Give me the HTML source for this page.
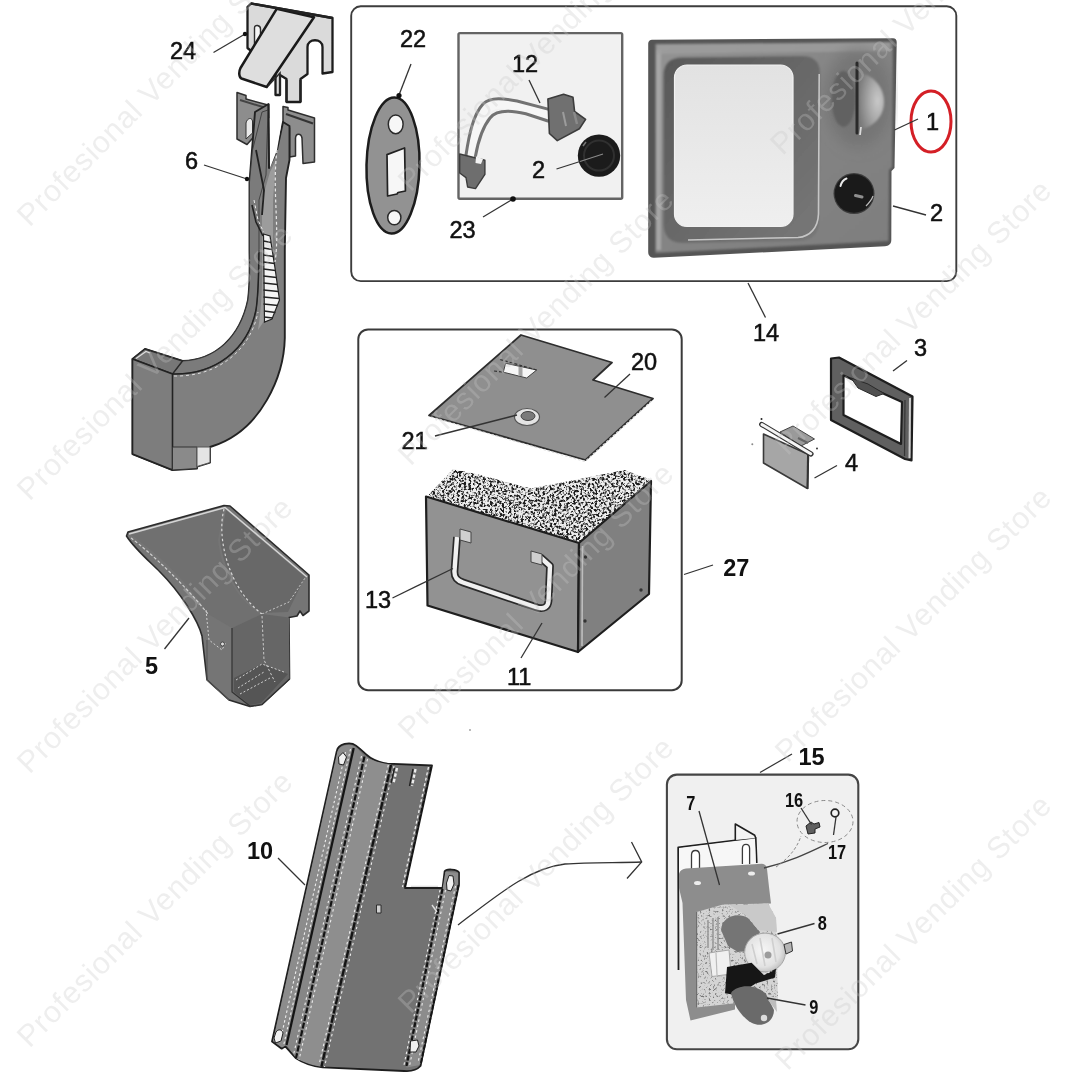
<!DOCTYPE html>
<html><head><meta charset="utf-8"><title>Parts diagram</title>
<style>
html,body{margin:0;padding:0;background:#fff;}
body{width:1080px;height:1080px;overflow:hidden;}
svg{display:block;}
g.noaa{opacity:0.999;}
text{font-family:"Liberation Sans",sans-serif;}
.wm{font-size:30.5px;fill:#c8c8c8;fill-opacity:0.31;letter-spacing:0.9px;}
.lb{font-size:24px;fill:#111;stroke:#111;stroke-width:0.55;}
.lb text,.lbb text{transform-box:fill-box;transform-origin:0 50%;}
.lb text{transform:scaleX(0.98);}
.lbb{font-size:23.5px;font-weight:bold;fill:#111;}
.ld{stroke:#333;stroke-width:1.3;fill:none;}
</style></head><body>
<svg width="1080" height="1080" viewBox="0 0 1080 1080">
<defs>
<filter id="speck" x="0" y="0" width="100%" height="100%">
<feTurbulence type="fractalNoise" baseFrequency="0.42" numOctaves="2" seed="7" result="n"/>
<feColorMatrix in="n" type="matrix" values="0 0 0 0 0  0 0 0 0 0  0 0 0 0 0  4 4 0 0 -3.75" result="m"/>
<feComposite in="SourceGraphic" in2="m" operator="in"/>
</filter>
<linearGradient id="gPanel" x1="0" y1="0" x2="1" y2="1">
<stop offset="0" stop-color="#9a9a9a"/><stop offset="0.5" stop-color="#8a8a8a"/><stop offset="1" stop-color="#7c7c7c"/>
</linearGradient>
<linearGradient id="gWin" x1="0" y1="0" x2="0" y2="1">
<stop offset="0" stop-color="#e2e2e2"/><stop offset="1" stop-color="#efefef"/>
</linearGradient>
</defs>
<rect width="1080" height="1080" fill="#fff"/>
<g id="frames" class="noaa">
<rect x="351.200" y="6.300" width="605.100" height="274.800" rx="9.500" ry="9.500" fill="none" stroke="#3d3d3d" stroke-width="1.900"/>
<rect x="358.300" y="329.400" width="323.400" height="360.800" rx="9.800" ry="9.800" fill="none" stroke="#3a3a3a" stroke-width="2"/>
<rect x="666.900" y="774.600" width="191.400" height="274.700" rx="10" ry="10" fill="#f0f0f0" stroke="#454545" stroke-width="2.100"/>
<rect x="458.500" y="33.100" width="163.700" height="165.600" rx="1.500" fill="#f1f1f1" stroke="#646464" stroke-width="2.400"/>
</g>
<g id="part24" class="noaa">
<!-- back plate -->
<path d="M247.500 7 L251 3.500 L332.500 18 L332.500 72 L322.500 73.500 L322.500 47 C322.500 38 307.500 38 307.500 47 L307.500 74 L300.500 79 L300.500 102 L286.500 102 L286.500 79 L280 75 L280 95 L275.500 95 L275.500 70 L262 60 L247.500 48 Z" fill="#dadada" stroke="#1c1c1c" stroke-width="2.3" stroke-linejoin="round"/>
<path d="M254.500 28 C254.500 24 260.500 25 260.500 29 L260.500 43 L254.500 46 Z" fill="#f5f5f5" stroke="#2e2e2e" stroke-width="1.4"/>
<path d="M286.500 80 L286.500 102 M300.500 80 L300.500 102" stroke="#222" stroke-width="2.2"/>
<!-- flap -->
<path d="M276.700 8.900 L314 17.200 L266.700 87 L241.500 78.500 C239 77.500 238.500 72 240.500 68 Z" fill="#dedede" stroke="#1a1a1a" stroke-width="2.5" stroke-linejoin="round"/>
<path d="M268 86 L280 73 L280 95" fill="none" stroke="#2a2a2a" stroke-width="1.6"/>
<path d="M251 3.500 L332.500 18" stroke="#222" stroke-width="2.4"/>
</g>
<g id="part6" class="noaa">
<!-- left hook bracket -->
<path d="M237 92.500 L246 95.500 L246 99 L268 105 L268 120 L258 117 L258 132 L247 144.500 L237 139 Z" fill="#8d8d8d" stroke="#2e2e2e" stroke-width="1.5" stroke-linejoin="round"/>
<path d="M246 123 C247 118 252 117 252.500 121 L252.500 133 L246 139 Z" fill="#e9e9e9" stroke="#333" stroke-width="1"/>
<path d="M240 100 L266 108" stroke="#444" stroke-width="2"/>
<!-- right hook bracket -->
<path d="M283 106.500 L288 107.500 L288 110 L314.500 118 L314.500 162 L303 163.500 L302 138 C301 133 296 133 295.500 138 L295.500 156 L289.500 157 L289.500 128 L283 126 Z" fill="#8d8d8d" stroke="#2e2e2e" stroke-width="1.5" stroke-linejoin="round"/>
<path d="M286 114 L313 123.500" stroke="#333" stroke-width="2.2"/>
<!-- J body silhouette -->
<path d="M255 112 L268.500 104 L269 168 L277 150 L283 122 L289.500 126 L289.500 160 L286 178 L284.800 250 L284.800 338 C284 375 262 430 213 446 L210 447 L210 462.500 L197 466.500 L197 468.500 L172.500 470 L132.500 454 L132.500 359 L145 349 L182.500 361 C215 360 240 338 248 300 C250.500 280 249.500 260 249.500 250 L249.500 182 L252 150 Z" fill="#7f7f7f" stroke="#222" stroke-width="1.9" stroke-linejoin="round"/>
<!-- gap between walls at top -->
<path d="M269.500 118 L281 126 L277 150 L270 168 Z" fill="#fff"/>
<!-- left wall lighter rim -->
<path d="M249.500 250 C249.500 262 250.500 280 248 300 C240 338 215 360 182.500 361 L172.500 374 C215 375 248 350 256 310 C259 290 258.500 268 259 250 L259 200 L266 175 L268 110 L262 112 L252.500 150 L249.500 182 Z" fill="#7b7b7b" stroke="#333" stroke-width="0.8"/>
<!-- inner channel with light stair marks -->
<path d="M262 200 L270 172 L276 160 L273 200 L273 250 C274 280 272 300 266 318 L258 330 C263 300 262 270 262 250 Z" fill="#9c9c9c"/>
<path d="M263.500 234 L270 236 L275 268 L279.500 300 L272 319 L264.500 322 Z" fill="#f4f4f4" stroke="#222" stroke-width="1.200"/>
<path d="M263.500 241 L271 242.500 M263.500 248 L272 249.500 M263.500 255 L273.500 256.500 M263.500 262 L274.500 263.500 M263.500 269 L275.500 270.500 M263.500 276 L276.500 277.500 M263.500 283 L277.500 284.500 M263.500 290 L278.500 291.500 M263.500 297 L279 298.500 M263.500 304 L278 305.500 M264 311 L275.500 312.500 M264 317 L273 318" fill="none" stroke="#222" stroke-width="1.500"/>
<path d="M252 205 L256 222 L263 236" fill="none" stroke="#222" stroke-width="1.600"/>
<path d="M254 200 L258 220 L263.500 232" fill="none" stroke="#ececec" stroke-width="1" stroke-dasharray="3 2.500"/>
<path d="M268.500 104 L269 168 M256 150 L264 190 L262 215" fill="none" stroke="#222" stroke-width="1.8"/>
<path d="M277 150 C272 190 280 230 275 262" fill="none" stroke="#e8e8e8" stroke-width="1.2" stroke-dasharray="3 2.500"/>
<!-- box top opening -->
<path d="M132.500 359 L145 349 L182.500 361 L172.500 374 Z" fill="#777" stroke="#2b2b2b" stroke-width="1.4" stroke-linejoin="round"/>
<path d="M136 358.500 L146 351.500 L150 353" fill="none" stroke="#ddd" stroke-width="1.2"/>
<!-- box left face -->
<path d="M132.500 359 L172.500 374 L172.500 470 L132.500 454 Z" fill="#7d7d7d" stroke="#222" stroke-width="1.6" stroke-linejoin="round"/>
<!-- bottom small blocks -->
<path d="M172.500 447 L197 447 L197 468.500 L172.500 470 Z" fill="#8a8a8a" stroke="#333" stroke-width="1"/>
<path d="M197 447 L210 447 L210 462.500 L197 466.500 Z" fill="#e4e4e4" stroke="#555" stroke-width="1"/>
<path d="M172.500 374 C215 375 248 350 256 310 C259 290 258.500 268 259 250" fill="none" stroke="#222" stroke-width="1.500"/>
<path d="M174 376 C216 377 250 352 258 312" fill="none" stroke="#ddd" stroke-width="1" stroke-dasharray="3 3"/>
</g>
<g id="part22" class="noaa">
<ellipse cx="393" cy="165.500" rx="26.500" ry="68" transform="rotate(1.300 393 165.500)" fill="#929292" stroke="#1c1c1c" stroke-width="2.500"/>
<ellipse cx="395.700" cy="124.300" rx="7.400" ry="9.400" fill="#f7f7f7" stroke="#2a2a2a" stroke-width="1.500"/>
<ellipse cx="394.300" cy="217.600" rx="6.600" ry="7.200" fill="#f7f7f7" stroke="#2a2a2a" stroke-width="1.500"/>
<path d="M387 154.600 L404.600 148 L405.400 191 L398 192.500 L397 194 L387.600 196 Z" fill="#f7f7f7" stroke="#222" stroke-width="1.700" stroke-linejoin="round"/>
</g>
<g id="box23" class="noaa">
<!-- wires: white ribbon with two dark gray edges -->
<path d="M470.500 156 C474 138 478 118 487 108 C494 101 508 103 522 107 L548 115" fill="none" stroke="#f6f6f6" stroke-width="11"/>
<path d="M466 155 C469 135 473 115 483 104 C491 96 506 99 518 101.200 L548 109.100" fill="none" stroke="#727272" stroke-width="3" stroke-linecap="round"/>
<path d="M475.500 156 C478 142 482 128 490 118 C497 109 512 110.500 525.800 113.800 L548 121" fill="none" stroke="#727272" stroke-width="3" stroke-linecap="round"/>
<!-- upper connector -->
<path d="M547.900 99 L563.600 94.200 L573 97.300 L574.600 111.500 L585.600 119.400 L579.400 128.800 L557.300 140.600 L549.400 133.500 Z" fill="#707070" stroke="#3c3c3c" stroke-width="1.600" stroke-linejoin="round"/>
<path d="M563 112 L566 126" fill="none" stroke="#9c9c9c" stroke-width="2"/>
<path d="M574 112 L577 124" fill="none" stroke="#8a8a8a" stroke-width="2.500"/>
<!-- lower connector -->
<path d="M459.700 154 L484.900 160.300 L484.900 174.400 L475.500 188.600 L467.600 187 L466 177.600 L459.700 173 Z" fill="#6e6e6e" stroke="#3c3c3c" stroke-width="1.400" stroke-linejoin="round"/>
<path d="M476 156.500 L483 159 L481 164 L475.500 163 Z" fill="#f2f2f2"/>
<!-- knob -->
<circle cx="599" cy="155.600" r="21.200" fill="#1b1b1b"/>
<circle cx="599" cy="155.600" r="15" fill="none" stroke="#303030" stroke-width="2"/>
<path d="M583 146 L586 142" stroke="#777" stroke-width="1.500"/>
</g>
<g id="panel14" class="noaa">
<defs>
<radialGradient id="gDome" cx="0.75" cy="0.5" r="0.75">
<stop offset="0" stop-color="#c9c9c9"/><stop offset="0.45" stop-color="#a9a9a9"/><stop offset="1" stop-color="#7c7c7c"/>
</radialGradient>
<linearGradient id="gFace" x1="0" y1="0" x2="1" y2="1">
<stop offset="0" stop-color="#939393"/><stop offset="0.5" stop-color="#848484"/><stop offset="1" stop-color="#7e7e7e"/>
</linearGradient>
<linearGradient id="gRec" x1="0" y1="0" x2="1" y2="1">
<stop offset="0" stop-color="#585858"/><stop offset="0.5" stop-color="#686868"/><stop offset="1" stop-color="#787878"/>
</linearGradient>
<filter id="soft14" x="-2%" y="-2%" width="104%" height="104%"><feGaussianBlur stdDeviation="0.8"/></filter>
<filter id="soft14b" x="-30%" y="-30%" width="160%" height="160%"><feGaussianBlur stdDeviation="7"/></filter>
</defs>
<!-- outer body (dark edge) -->
<path d="M652 39.800 L893 38.300 C895.500 38.300 896.700 40 896.700 42 L894.500 168 L891.500 171 L891.300 240 C891.300 244 888.500 246 885 246.200 L654 257.800 C650.500 258 648.200 255.500 648.200 252 L648.200 43.500 C648.200 41.500 650 39.800 652 39.800 Z" fill="#555555"/>
<g filter="url(#soft14)">
<!-- face -->
<path d="M655.500 44 L893 42 L892 167 L889 170 L888.500 241 L655.500 253 Z" fill="url(#gFace)"/>
<!-- bevel highlights -->
<path d="M658.500 250 L658.500 50" fill="none" stroke="#a8a8a8" stroke-width="5" stroke-opacity="0.9"/>
<path d="M657 49.500 L890 46.500" fill="none" stroke="#9f9f9f" stroke-width="9" stroke-opacity="0.75"/>
<!-- darker zone around slot -->
<ellipse cx="858" cy="98" rx="34" ry="50" fill="#6a6a6a" fill-opacity="0.55" filter="url(#soft14b)"/>
<!-- recess -->
<path d="M682 57.500 L802 56 C814 56 820 62 820 73 L819 222 C819 234 812 240.500 800 241 L683 243 C670 243 663.500 236 663.500 224 L663.500 75.500 C663.500 63.500 670 57.500 682 57.500 Z" fill="url(#gRec)"/>
</g>
<path d="M819.200 74 L818.500 214 C818 228 810 236.500 798 237.500 L688 240" fill="none" stroke="#c6c6c6" stroke-width="1.600"/>
<!-- window -->
<rect x="674.500" y="65" width="118.500" height="161.500" rx="12.500" ry="12.500" fill="url(#gWin)" stroke="#f2f2f2" stroke-width="1.200"/>
<!-- dome & slot -->
<g filter="url(#soft14)">
<ellipse cx="843.500" cy="99" rx="12" ry="28" fill="#5e5e5e" fill-opacity="0.85"/>
<path d="M858.500 72 C876 76 885 90 884 104 C883 118 872 127 860 130 Z" fill="url(#gDome)"/>
</g>
<path d="M857 63 L857 133" stroke="#2a2a2a" stroke-width="3" stroke-linecap="round"/>
<path d="M861 127 L860 135" stroke="#dcdcdc" stroke-width="1.800"/>
<!-- knob -->
<circle cx="854" cy="193.500" r="20.500" fill="#3c3c3c"/>
<circle cx="854" cy="193.500" r="19.300" fill="#1a1a1a"/>
<path d="M840.500 186 C841.500 182 844 179.500 846.500 178.500" fill="none" stroke="#e8e8e8" stroke-width="2" stroke-linecap="round"/>
<path d="M855.500 195.500 L862 197" stroke="#8f8f8f" stroke-width="3" stroke-linecap="round"/>
<path d="M866 206 C870 202 872 199 873 196" fill="none" stroke="#bbb" stroke-width="1.200"/>
</g>
<g id="box27" class="noaa">
<!-- plate 20 -->
<path d="M521 335 L612 362.500 L593 380 L653 398.500 L585.500 460 L429 415.500 Z" fill="#8f8f8f" stroke="#2d2d2d" stroke-width="1.8" stroke-linejoin="round"/>
<path d="M431 417 L585 461.500 L652 400.500" fill="none" stroke="#dcdcdc" stroke-width="1.2" stroke-dasharray="2.500 2"/>
<path d="M505.600 363.300 L536.700 370 L526.700 378 L503.300 372.200 Z" fill="#f6f6f6" stroke="#444" stroke-width="1"/>
<path d="M520.500 367 L520.500 376" stroke="#a5a5a5" stroke-width="4"/>
<path d="M500 359.500 L536.700 370 M494 371 L503.300 372.200" stroke="#333" stroke-width="1.200" stroke-dasharray="3 2"/>
<!-- ring 21 -->
<ellipse cx="527" cy="417" rx="12.500" ry="8.500" fill="#e4e4e4" stroke="#555" stroke-width="1.2"/>
<ellipse cx="528" cy="416" rx="7" ry="4.500" fill="#7a7a7a" stroke="#444" stroke-width="1"/>
<!-- box 11 top foam -->
<path d="M427 496.500 L453.300 469 L480 475 L531 488.500 L580 479 L624.400 470 L650.500 479.500 L579 543 Z" fill="#ededed"/>
<path d="M427 496.500 L453.300 469 L480 475 L531 488.500 L580 479 L624.400 470 L650.500 479.500 L579 543 Z" fill="#1a1a1a" filter="url(#speck)"/>
<!-- front -->
<path d="M426 496.500 L579 543 L578 652 L427.500 605.500 Z" fill="#929292" stroke="#1e1e1e" stroke-width="2.2" stroke-linejoin="round"/>
<!-- side -->
<path d="M579 543 L651 481 L649 594 L578 652 Z" fill="#808080" stroke="#1e1e1e" stroke-width="2.2" stroke-linejoin="round"/>
<path d="M582.500 546 L582 646" stroke="#bdbdbd" stroke-width="1.600"/>
<circle cx="585.500" cy="557" r="1.700" fill="#333"/><circle cx="585" cy="621" r="1.700" fill="#333"/><circle cx="641" cy="590" r="1.700" fill="#333"/>
<!-- handle 13 -->
<path d="M457 537 L454.500 570.500 C454 577.500 457 580.500 463 582.500 L537 607.500 C544 609.500 548 607 548.500 601 L550 566 L540 557" fill="none" stroke="#2a2a2a" stroke-width="7.800" stroke-linejoin="round"/>
<path d="M457 537 L454.500 570.500 C454 577.500 457 580.500 463 582.500 L537 607.500 C544 609.500 548 607 548.500 601 L550 566 L540 557" fill="none" stroke="#f0f0f0" stroke-width="4.400" stroke-linejoin="round"/>
<path d="M460 529 L471 532 L471 543 L460 540 Z" fill="#cfcfcf" stroke="#444" stroke-width="1"/>
<path d="M531 551 L542 554 L542 565 L531 562 Z" fill="#cfcfcf" stroke="#444" stroke-width="1"/>
</g>
<g id="part34" class="noaa">
<!-- frame 3 -->
<path fill-rule="evenodd" d="M831 358.500 L839 357.500 L912.500 396.500 L911.500 460.500 L905 459 L831 420 Z M843.500 375.500 L902 402 L901 444 L843.500 415 Z" fill="#606060" stroke="#1e1e1e" stroke-width="2.200" stroke-linejoin="round"/>
<path d="M851 378 L858 388 L876 396.500 L884 393.500 L868 384 Z" fill="#505050" stroke="#2a2a2a" stroke-width="1"/>
<path d="M910 398 L909.500 458" stroke="#cfcfcf" stroke-width="2"/>
<path d="M905 400 L904.500 456" stroke="#333" stroke-width="1.200"/>
<!-- part 4 -->
<path d="M763.500 434 L808.500 454.500 L807.500 488.500 L763.500 463 Z" fill="#a6a6a6" stroke="#3a3a3a" stroke-width="1.600" stroke-linejoin="round"/>
<path d="M780 432 L793 426 L814.500 439 L801 446 Z" fill="#9a9a9a" stroke="#444" stroke-width="1"/>
<path d="M798 438 L808 443" stroke="#666" stroke-width="2"/>
<path d="M761.700 424.400 L811 453.900" stroke="#333" stroke-width="5.200" stroke-linecap="round"/>
<path d="M762 424.600 L810.700 453.700" stroke="#f4f4f4" stroke-width="3" stroke-linecap="round"/>
<path d="M808 455 L807.500 489" stroke="#333" stroke-width="2"/>
<circle cx="761.500" cy="419" r="1" fill="#222"/><circle cx="817" cy="448.500" r="0.900" fill="#222"/>

<circle cx="752.300" cy="444.200" r="1" fill="#8a8a8a"/>
<circle cx="470" cy="730" r="0.900" fill="#9a9a9a"/>
</g>
<g id="part5" class="noaa">
<!-- hopper silhouette -->
<path d="M126.500 536 L128 532 L224 505.500 L230 506 L309 575 L309 611 L303 615.500 L300 611 L297 616 L289 617.500 L289.500 679 L262 704.500 L250 706.500 L229 700 L207 680 L202 636 C198 620 180 592 160 572 C148 560 134 548 126.500 536 Z" fill="#757575" stroke="#2c2c2c" stroke-width="1.600" stroke-linejoin="round"/>
<!-- inner left wall -->
<path d="M131 535 L224 509 L218 540 C222 575 240 602 262 615 L232 628 L208 614 C190 585 160 555 131 535 Z" fill="#707070"/>
<!-- inner right wall -->
<path d="M226 510 L305 577 L288 612 L262 613 C240 600 224 572 220 540 Z" fill="#686868"/>
<!-- rim highlight -->
<path d="M129 534 L225 507.500 L307 577" fill="none" stroke="#d5d5d5" stroke-width="1.500"/>
<path d="M131 538 C150 552 185 585 208 614" fill="none" stroke="#cfcfcf" stroke-width="1.200" stroke-dasharray="3 2"/>
<path d="M224 509 C216 540 230 590 262 614" fill="none" stroke="#d8d8d8" stroke-width="1.200" stroke-dasharray="2.500 2.500"/>
<path d="M262 614 L289 602 L305 578" fill="none" stroke="#c8c8c8" stroke-width="1" stroke-dasharray="2 2"/>
<!-- spout -->
<path d="M232 628 L262 614 L289 617.500 L289.500 679 L262 704.500 L250 706.500 L232 692 Z" fill="#666666"/>
<path d="M234 678 L262 664 L288 674 L261 703 L250 705 L234 692 Z" fill="#555"/>
<path d="M232 628 L232 692 L250 706 L262 704.500 L289.500 679" fill="none" stroke="#333" stroke-width="1.200"/>
<path d="M262 616 L264 660 L275 682" fill="none" stroke="#c9c9c9" stroke-width="1" stroke-dasharray="2.500 2"/>
<path d="M236 680 L262 664 L284 672 M238 688 L264 672 M240 694 L270 678" fill="none" stroke="#d0d0d0" stroke-width="1" stroke-dasharray="2 2"/>
<path d="M207 640 L207 680 L229 700" fill="none" stroke="#555" stroke-width="1"/>
<path d="M206 610 L209 640 L222 650 L226 642" fill="none" stroke="#cfcfcf" stroke-width="1" stroke-dasharray="2 2"/>
<circle cx="222.500" cy="644" r="2" fill="#ddd" stroke="#333" stroke-width="0.800"/>
</g>
<g id="part10" class="noaa">
<!-- silhouette (main, darker) -->
<path d="M336.800 751 C338 744 350 741 356 745.600 C362 750 366 755 370.500 757.700 C376 761 382 763 387.400 763.700 L432 765.500 L405 888 L442.500 888 L444.600 871.500 C446 868.500 457 869 459 872.500 L459 884.500 L420.500 1066 C416 1071 410 1071.500 404 1071 L322.600 1067.300 C310 1066 300 1061 296 1058.300 L285.300 1046.300 L281.700 1048.700 L272 1041.500 Z" fill="#727272" stroke="#1e1e1e" stroke-width="1.800" stroke-linejoin="round"/>
<!-- left flange -->
<path d="M337.300 752 C339 745.500 348 743.500 353.700 746 L286.500 1045 L282 1047.500 L273 1041 Z" fill="#8c8c8c"/>
<!-- second strip -->
<path d="M353.700 746 C358 748 361 753 364.500 756 L296 1058 L286.500 1045 Z" fill="#868686"/>
<!-- third strip (lighter) -->
<path d="M364.500 756 C372 761 382 763.500 391 764.500 L321.400 1066.700 C311 1065.500 301 1061 296 1058 Z" fill="#8e8e8e"/>
<!-- right flange -->
<path d="M445.400 871.800 L458.200 872.800 L458.200 884.500 L420 1065 L406.500 1067.500 L442.500 889 Z" fill="#8c8c8c"/>
<!-- edges -->
<path d="M353.700 748 L286.500 1045" fill="none" stroke="#141414" stroke-width="2.300"/>
<path d="M364.500 756.500 L296 1058" fill="none" stroke="#141414" stroke-width="2.200" stroke-dasharray="6 1.800"/>
<path d="M391 765 L321.400 1066.700" fill="none" stroke="#141414" stroke-width="2.400" stroke-dasharray="8 1.500"/>
<path d="M345.500 752 L279.500 1044 M350.500 749 L283.500 1046" fill="none" stroke="#ececec" stroke-width="1.100" stroke-dasharray="2.500 2.500"/>
<path d="M361.500 756 L293.500 1055 M367.500 759 L299 1060" fill="none" stroke="#ececec" stroke-width="1.100" stroke-dasharray="2.500 3"/>
<path d="M388.300 765 L319 1065 M394 766 L324.500 1067" fill="none" stroke="#ececec" stroke-width="1.100" stroke-dasharray="2.500 3"/>
<path d="M428.500 767 L402.500 887" fill="none" stroke="#ececec" stroke-width="1.300" stroke-dasharray="3 2.500"/>
<path d="M431 767 L404.800 887" fill="none" stroke="#141414" stroke-width="1.600" stroke-dasharray="5 2"/>
<path d="M442.500 889 L406.500 1066" fill="none" stroke="#141414" stroke-width="2.200" stroke-dasharray="5 1.800"/>
<path d="M440 890 L404 1065 M445.500 890 L409.500 1066" fill="none" stroke="#ececec" stroke-width="1.100" stroke-dasharray="2.500 3"/>
<path d="M458.500 885 L420.500 1065" fill="none" stroke="#141414" stroke-width="2" stroke-dasharray="5 1.800"/>
<path d="M455.500 886 L418 1063" fill="none" stroke="#ececec" stroke-width="1.100" stroke-dasharray="2.500 3"/>
<path d="M405 888 L442.500 888" stroke="#1e1e1e" stroke-width="2"/>
<path d="M411 886.300 L438 886.300" stroke="#dcdcdc" stroke-width="1.200"/>
<!-- top slots -->
<path d="M397 768 L393.500 783 M415.500 769 L412 786" stroke="#ececec" stroke-width="2.400" stroke-dasharray="3.500 2"/>
<path d="M394.500 768 L391 783 M413 769 L409.500 786" stroke="#222" stroke-width="1.400"/>
<!-- screw holes -->
<path d="M338.500 757 L343 752.500 L346.500 757 L343.500 765 L339 764 Z" fill="#f1f1f1" stroke="#222" stroke-width="1"/>
<path d="M276 1032 C278 1029 282 1029 283 1033 L281 1041 L275.500 1043 L274 1038 Z" fill="#f1f1f1" stroke="#222" stroke-width="1"/>
<path d="M446.500 883 L449 875.500 L453 876 L454 884 L451 891 L447 890 Z" fill="#f1f1f1" stroke="#222" stroke-width="1"/>
<path d="M410.500 1041 L417.500 1040 L419 1046 L416 1052 L410 1052 Z" fill="#f1f1f1" stroke="#222" stroke-width="1"/>
<path d="M376.500 905 L381 905 L381 913 L376.500 913 Z" fill="#cfcfcf" stroke="#222" stroke-width="0.900"/>
<path d="M432 905 L437 912" stroke="#ddd" stroke-width="1.400"/>
</g>
<g id="box15" class="noaa">
<defs>
<filter id="speck2" x="0" y="0" width="100%" height="100%">
<feTurbulence type="fractalNoise" baseFrequency="0.45" numOctaves="2" seed="3" result="n"/>
<feColorMatrix in="n" type="matrix" values="0 0 0 0 0  0 0 0 0 0  0 0 0 0 0  3 3 0 0 -3.2" result="m"/>
<feComposite in="SourceGraphic" in2="m" operator="in"/>
</filter>
<filter id="soft" x="-5%" y="-5%" width="110%" height="110%"><feGaussianBlur stdDeviation="0.7"/></filter>
<radialGradient id="gCyl" cx="0.45" cy="0.45" r="0.6">
<stop offset="0" stop-color="#f6f6f6"/><stop offset="0.7" stop-color="#e2e2e2"/><stop offset="1" stop-color="#bcbcbc"/>
</radialGradient>
</defs>
<!-- back plate -->
<path d="M678.500 970 L678.200 847.500 L755.700 838 L756.700 863" fill="none" stroke="#1e1e1e" stroke-width="1.800" stroke-linejoin="round"/>
<path d="M679 848 L755 838.500 L756 866 L679 874 Z" fill="#f7f7f7"/>
<path d="M735.300 840 L735.300 824 L754.700 835.300 L755.700 838" fill="#f4f4f4" stroke="#1e1e1e" stroke-width="1.600" stroke-linejoin="round"/>
<path d="M691.500 871 L691.500 855 C691.500 849 699.500 849 699.500 855 L699.500 871" fill="#fff" stroke="#3a3a3a" stroke-width="1.300"/>
<path d="M742.400 864 L742.400 848.500 C742.400 843 749.600 843 749.600 848.500 L749.600 864" fill="#fff" stroke="#3a3a3a" stroke-width="1.300"/>
<g filter="url(#soft)">
<!-- gray bracket 7 -->
<path d="M679 874 C680 870 683 869 686 868.500 L762 863.800 C765 863.800 766.500 866 767 869 L769 887 L771 903.600 L735 905 L735 1009.500 L690.500 1020.500 L686 1000 L682.500 903 L679 888 Z" fill="#8d8d8d"/>
<!-- textured area -->
<path d="M696.600 912 L723 904.500 L768 903.600 L776 918 L778 1000 L733 1003.500 L696.600 1007.500 Z" fill="#d4d4d4"/>
<path d="M696.600 912 L723 904.500 L768 903.600 L776 918 L778 1000 L733 1003.500 L696.600 1007.500 Z" fill="#777" filter="url(#speck2)"/>
<path d="M708 920 L708 948 M713 918 L713 950 M718 917 L718 950" stroke="#9a9a9a" stroke-width="1.600"/>
<path d="M696.600 912 L696.600 1007.500" stroke="#6e6e6e" stroke-width="1.200"/>
<!-- motor 8 body -->
<path d="M721 930 C722 916 738 912 748 918 L760 932 L752 950 L738 952 L728 946 Z" fill="#747474"/>
<path d="M730 905 L768 903.600 L776 918 L777 932 L758 930 L748 917 Z" fill="#c9c9c9"/>
<!-- light cylinder -->
<ellipse cx="765" cy="952.500" rx="20.400" ry="19.400" fill="url(#gCyl)" stroke="#a5a5a5" stroke-width="1"/>
<path d="M752 944 L757 964 M760 938 L765 966 M772 938 L776 962" stroke="#cfcfcf" stroke-width="1.600"/>
<circle cx="768" cy="955" r="3.500" fill="#9c9c9c"/>
<path d="M784 944.500 L791.500 942 L792.500 951 L786 954 Z" fill="#b5b5b5" stroke="#333" stroke-width="1"/>
<!-- small white piece -->
<path d="M709 953 L729 950 L731 974 L712 976.500 Z" fill="#f0f0f0" stroke="#999" stroke-width="0.800"/>
<path d="M716 953 L717 975" stroke="#bbb" stroke-width="1.200"/>
<!-- motor 9 black + gray -->
<path d="M727 967 L751.600 962.700 L763.800 975 L776 968.800 L775 977.500 L755.700 983.500 L737.300 995.300 L725 993.300 Z" fill="#161616"/>
<path d="M764 974 L772 971" stroke="#ddd" stroke-width="1.500" stroke-dasharray="2 2"/>
<path d="M731 993 C738 984 756 984 766 994 L774 1010 C774 1022 762 1028 752 1023 C742 1018 733 1004 731 993 Z" fill="#6b6b6b"/>
<circle cx="764" cy="1018" r="3.200" fill="#dcdcdc"/>
<path d="M768 1000 L777 1012 L776 1000 Z" fill="#bdbdbd"/>
</g>
<ellipse cx="697.500" cy="883" rx="3.500" ry="2" fill="#ededed"/><ellipse cx="751.500" cy="873.500" rx="3.500" ry="2" fill="#ededed"/>
<!-- 16 / 17 small items -->
<ellipse cx="825" cy="821.500" rx="28" ry="21" fill="none" stroke="#8a8a8a" stroke-width="1" stroke-dasharray="4 3"/>
<path d="M764 868 C790 862 810 852 828 843.500" fill="none" stroke="#444" stroke-width="1.300"/>
<path d="M776 867 C792 856 798 845 801 836" fill="none" stroke="#8a8a8a" stroke-width="1" stroke-dasharray="3 2"/>
<path d="M806 826 L811 822 L814 824 L819 822.500 L820 827 L815 829 L815 833 L808 834 Z" fill="#5f5f5f" stroke="#222" stroke-width="1"/>
<circle cx="835" cy="813" r="3.800" fill="#f3f3f3" stroke="#222" stroke-width="1.700"/>
<path d="M836 817 L833.500 835" stroke="#333" stroke-width="1.300"/>
</g>
<g id="labels" class="noaa">
<g class="lb">
<text x="170" y="59.5">24</text>
<text x="185" y="169">6</text>
<text x="400" y="47.5">22</text>
<text x="512" y="72.5">12</text>
<text x="532" y="178.5">2</text>
<text x="449.5" y="238">23</text>
<text x="926" y="130">1</text>
<text x="930" y="221.5">2</text>
<text x="753" y="341">14</text>
<text x="631" y="370.5">20</text>
<text x="401.5" y="449">21</text>
<text x="365" y="608.5">13</text>
<text x="507" y="685">11</text>
<text x="914" y="356.5">3</text>
<text x="845" y="471.5">4</text>
</g>
<g class="lbb">
<text x="723.3" y="576.3">27</text>
<text x="145" y="674">5</text>
<text x="247" y="859">10</text>
<text x="798.5" y="765">15</text>
</g>
<g class="lbb" style="font-size:20px">
<text transform="translate(686.3,809.5) scale(0.82,1)">7</text>
<text transform="translate(785,807) scale(0.82,1)">16</text>
<text transform="translate(828,858.5) scale(0.82,1)">17</text>
<text transform="translate(817.8,929.5) scale(0.82,1)">8</text>
<text transform="translate(809.3,1013.8) scale(0.82,1)">9</text>
</g>
<ellipse cx="931" cy="121.5" rx="20" ry="30.5" fill="none" stroke="#d41f26" stroke-width="3"/>
<g class="ld">
<path d="M213.500 52.500 L245 34"/>
<path d="M204 165 L247 179"/>
<path d="M411 64 L399 95"/>
<path d="M529 80 L540 103"/>
<path d="M556.500 169 L580 161.500"/><path d="M580 161.500 L603 154" stroke="#8a8a8a"/>
<path d="M483 217 L513 199"/>
<path d="M894.500 130 L918 119"/>
<path d="M893 206 L926 215"/>
<path d="M748 283 L765.500 317.500"/>
<path d="M630 374 L604.500 397.500"/>
<path d="M435 436 L517 415"/>
<path d="M392.500 598 L453 568.500"/>
<path d="M521 658 L542 623"/>
<path d="M684 574.500 L713 565"/>
<path d="M907 360.500 L893 371"/>
<path d="M837 465.500 L814.500 478"/>
<path d="M189 618 L164.500 649"/>
<path d="M278 858 L305 885"/>
<path d="M792 754 L760 772.500"/>
<path d="M699 811 L719.500 885"/>
<path d="M814.500 923.500 L777.500 934"/>
<path d="M805.500 1005 L767 998"/>
<path d="M801 808 L811.500 824.500"/>
<path d="M458 925 C500 893 530 868 565 864 C590 862 620 863 641.500 862"/>
<path d="M631.500 842 L641.700 862 L627 878.500"/>
</g>
<circle cx="245" cy="34" r="2.2" fill="#111"/>
<circle cx="247" cy="179" r="2.2" fill="#111"/>
<circle cx="399" cy="95.500" r="2.600" fill="#111"/>
<circle cx="513" cy="199" r="2.800" fill="#111"/>
</g>
<g id="watermarks" class="noaa">
<g class="wm">
<text transform="translate(29.5,227.7) rotate(-45)">Profesional Vending Store</text>
<text transform="translate(29.5,501.7) rotate(-45)">Profesional Vending Store</text>
<text transform="translate(29.5,774.7) rotate(-45)">Profesional Vending Store</text>
<text transform="translate(29.5,1048.7) rotate(-45)">Profesional Vending Store</text>
<text transform="translate(410.5,192.7) rotate(-45)">Profesional Vending Store</text>
<text transform="translate(410.5,466.7) rotate(-45)">Profesional Vending Store</text>
<text transform="translate(410.5,740.7) rotate(-45)">Profesional Vending Store</text>
<text transform="translate(410.5,1014.7) rotate(-45)">Profesional Vending Store</text>
<text transform="translate(782.5,156.3) rotate(-44.1)">Profesional Vending Store</text>
<text transform="translate(787.5,456.5) rotate(-44.8)">Profesional Vending Store</text>
<text transform="translate(787.5,763.5) rotate(-44.8)">Profesional Vending Store</text>
<text transform="translate(787.5,1071.5) rotate(-44.8)">Profesional Vending Store</text>
</g>
</g>
</svg>
</body></html>
